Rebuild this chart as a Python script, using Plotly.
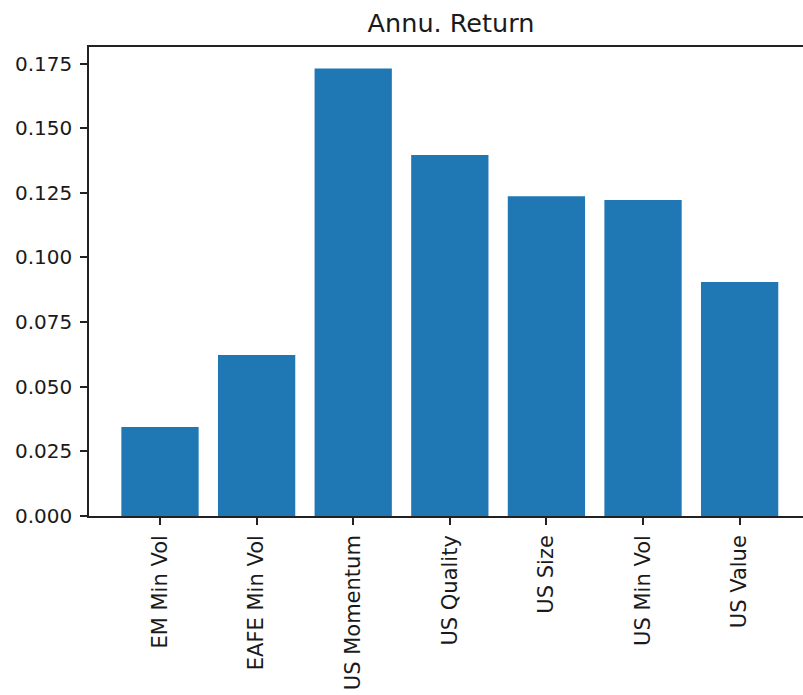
import plotly.graph_objects as go

categories = ["EM Min Vol", "EAFE Min Vol", "US Momentum", "US Quality", "US Size", "US Min Vol", "US Value"]
annu_return = [0.0344, 0.0623, 0.1731, 0.1396, 0.1237, 0.1222, 0.0905]
y_ticks = [0.000, 0.025, 0.050, 0.075, 0.100, 0.125, 0.150, 0.175]
y_tick_labels = ["0.000", "0.025", "0.050", "0.075", "0.100", "0.125", "0.150", "0.175"]

fig = go.Figure(go.Bar(
    x=list(range(len(categories))),
    y=annu_return,
    marker=dict(color="#1f77b4", line=dict(width=0)),
    width=0.8,
))

fig.update_layout(
    width=803, height=695,
    margin=dict(l=89, r=0, t=47, b=179),
    paper_bgcolor="white", plot_bgcolor="white",
    font=dict(family="DejaVu Sans", size=20, color="#1a1a1a"),
    showlegend=False,
    title=dict(text="Annu. Return", x=451 / 803, xanchor="center",
               xref="container", yref="container", y=1 - 23 / 695, yanchor="middle",
               font=dict(family="DejaVu Sans", size=25.5, color="#1a1a1a")),
)

fig.update_xaxes(
    range=[-0.735, 6.656],
    tickmode="array", tickvals=list(range(len(categories))), ticktext=categories,
    tickangle=-90, ticks="outside", ticklen=7, tickwidth=1.5, tickcolor="#222222",
    ticklabelstandoff=2, tickfont=dict(size=21),
    showline=True, linecolor="#222222", linewidth=1.5, mirror=True,
    showgrid=False, zeroline=False,
)
fig.update_yaxes(
    range=[0, 0.1814],
    tickmode="array", tickvals=y_ticks, ticktext=y_tick_labels,
    ticks="outside", ticklen=7, tickwidth=1.5, tickcolor="#222222",
    ticklabelstandoff=4,
    showline=True, linecolor="#222222", linewidth=1.5, mirror=False,
    showgrid=False, zeroline=False,
)

fig.write_html("out.html", config={"displayModeBar": False},
               post_script="document.body.style.margin='0px';")
